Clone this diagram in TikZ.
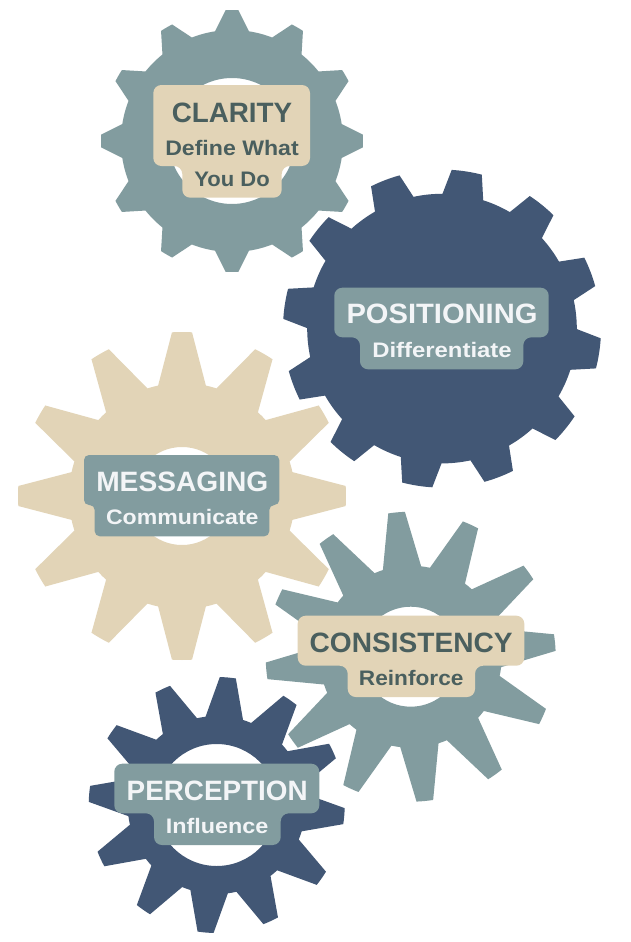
\documentclass[tikz,border=0pt]{standalone}
\usepackage{fontspec}
\usepackage{graphicx}
\setmainfont{Liberation Sans}
\definecolor{slate}{HTML}{829C9F}
\definecolor{navy}{HTML}{425775}
\definecolor{beige}{HTML}{E2D4B7}
\definecolor{darktext}{HTML}{4A5F5E}
\definecolor{lighttext}{HTML}{F3F5F7}
\newsavebox{\fitbox}
% text set to an exact width in px, height unchanged
\newcommand{\fitw}[3]{\sbox{\fitbox}{\fontsize{#1}{#1}\selectfont\bfseries #3}\pgfmathsetmacro{\fitr}{#2/(\the\wd\fitbox)}\scalebox{\fitr}[1]{\usebox{\fitbox}}}
% \gearshape{cx}{cy}{rotation cw}{Rtip}{Rroot}{tip half}{root half}{colour}{hole path}
\newcommand{\gearshape}[9]{%
  \pgfmathsetmacro{\gstart}{90-(#3)+(#6)}%
  \fill[#8,even odd rule,shift={(#1,-#2)}] (\gstart:#4pt)
  \foreach \k in {0,...,11}{%
    \pgfextra{\pgfmathsetmacro{\ga}{90-(#3)-30*\k}%
      \pgfmathsetmacro{\gb}{\ga+#6}\pgfmathsetmacro{\gc}{\ga-#6}%
      \pgfmathsetmacro{\gd}{\ga-#7}\pgfmathsetmacro{\ge}{\ga-30+#7}%
      \pgfmathsetmacro{\gf}{\ga-30+#6}\xdef\gc{\gc}\xdef\gb{\gb}\xdef\gd{\gd}\xdef\ge{\ge}\xdef\gf{\gf}}%
    arc[start angle=\gb,end angle=\gc,radius=#4pt] -- (\gd:#5pt)
    arc[start angle=\gd,end angle=\ge,radius=#5pt] -- (\gf:#4pt)
  } -- cycle #9;}
% \labelshape{left}{right}{top}{step}{lowleft}{lowright}{bottom}{colour}{step radius}
\newcommand{\labelshape}[9]{%
  \fill[#8,rounded corners=#9pt] (#1,-#3) -- (#2,-#3) -- (#2,-#4) -- (#6,-#4) -- (#6,-#7) -- (#5,-#7) -- (#5,-#4) -- (#1,-#4) -- cycle;}
\tikzset{lbl/.style={anchor=base,inner sep=0pt,outer sep=0pt}}
\begin{document}
\begin{tikzpicture}[x=1pt,y=1pt]
\useasboundingbox[fill=white] (0,-942) rectangle (630,0);
\gearshape{232}{141}{0}{131}{111}{2.8}{8.8}{slate}{(0,0) circle[radius=63pt]}
\gearshape{442}{328.6}{9}{159}{134.8}{5.5}{8.8}{navy}{}
\gearshape{182}{496}{0}{164}{113}{3.5}{12.2}{beige}{(0,0) circle[radius=49pt]}
\gearshape{410.7}{656.7}{-5.6}{145}{91}{3.3}{12.2}{slate}{(0,0) circle[radius=50pt]}
\gearshape{216.7}{805}{5}{128}{89}{3.6}{12.2}{navy}{(0,0) circle[radius=61pt]}
\labelshape{153.3}{310}{85}{166}{182.3}{281.7}{197.7}{beige}{8}
\labelshape{334.3}{548.7}{287.7}{337.3}{360}{523.3}{369.3}{slate}{8}
\labelshape{84}{279.3}{455}{505}{94.7}{269.3}{536.3}{slate}{5}
\labelshape{297.7}{524.3}{615.7}{665.7}{347.7}{475}{697}{beige}{8}
\labelshape{114.3}{319.3}{763.7}{813.3}{154}{280.7}{845}{slate}{8}
\node[lbl,text=darktext] (clarityhead) at (232,-122) {\fitw{28}{120.5}{CLARITY}};
\node[lbl,text=darktext] (claritysuba) at (232,-155) {\fitw{21}{133.5}{Define What}};
\node[lbl,text=darktext] (claritysubb) at (232,-186) {\fitw{21}{75.5}{You Do}};
\node[lbl,text=lighttext] (poshead) at (442,-323.6) {\fitw{28}{191}{POSITIONING}};
\node[lbl,text=lighttext] (possub) at (442,-357) {\fitw{21}{139.5}{Differentiate}};
\node[lbl,text=lighttext] (meshead) at (182.3,-491) {\fitw{28}{172}{MESSAGING}};
\node[lbl,text=lighttext] (messub) at (182.3,-524.3) {\fitw{21}{152.5}{Communicate}};
\node[lbl,text=darktext] (conhead) at (411.2,-652) {\fitw{28}{203}{CONSISTENCY}};
\node[lbl,text=darktext] (consub) at (411.2,-685.3) {\fitw{21}{104.5}{Reinforce}};
\node[lbl,text=lighttext] (perhead) at (217.2,-800.3) {\fitw{28}{181}{PERCEPTION}};
\node[lbl,text=lighttext] (persub) at (217.2,-833.6) {\fitw{21}{102.5}{Influence}};
\end{tikzpicture}
\end{document}
